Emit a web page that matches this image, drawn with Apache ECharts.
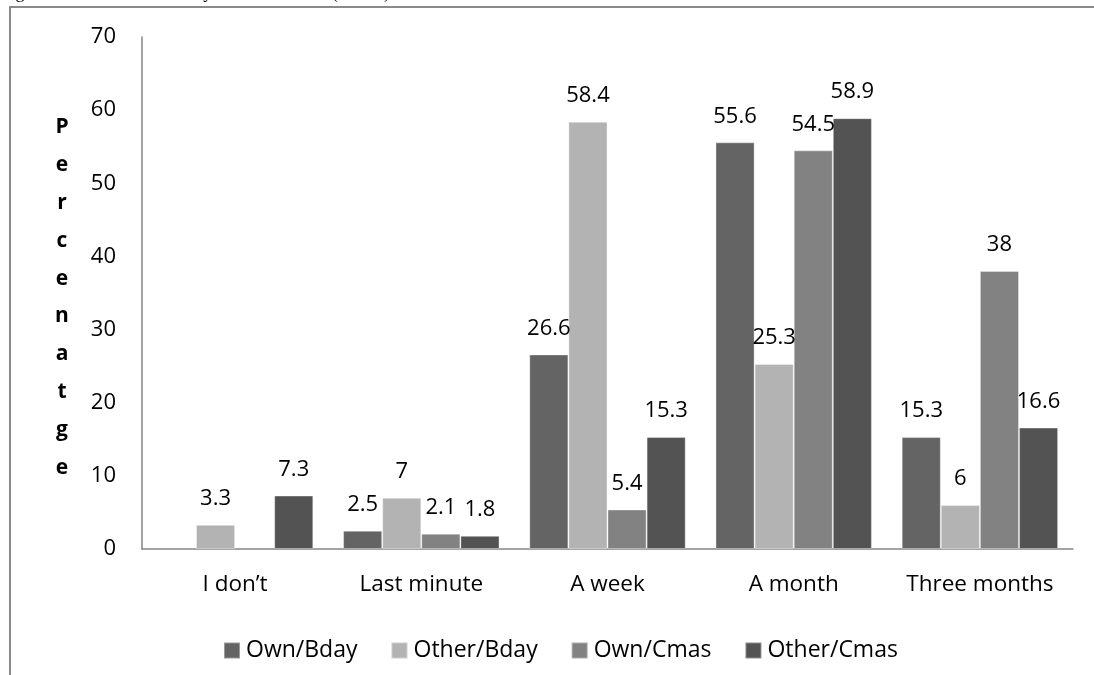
<!DOCTYPE html>
<html>
<head>
<meta charset="utf-8">
<style>
  html, body { margin: 0; padding: 0; background: #ffffff; }
  #chart { width: 1094px; height: 675px; }
</style>
<script src="https://cdn.jsdelivr.net/npm/echarts@6/dist/echarts.min.js"></script>
</head>
<body>
<div id="chart"></div>
<script>
// Time ahead gifts are planned, by occasion (percentages)
const categories = ['I don\u2019t', 'Last minute', 'A week', 'A month', 'Three months'];
const seriesNames = ['Own/Bday', 'Other/Bday', 'Own/Cmas', 'Other/Cmas'];
const ownBday   = [null, 2.5, 26.6, 55.6, 15.3];
const otherBday = [3.3, 7, 58.4, 25.3, 6];
const ownCmas   = [null, 2.1, 5.4, 54.5, 38];
const otherCmas = [7.3, 1.8, 15.3, 58.9, 16.6];
const yTicks = [0, 10, 20, 30, 40, 50, 60, 70];
const axisTitle = 'Percenatge';
const caption = 'Figure 5: Time ahead gifts are bought related to their birthdays and Christmas (n=310)';

const seriesValues = [ownBday, otherBday, ownCmas, otherCmas];
const colors = ['#646464', '#b3b3b3', '#828282', '#535353'];
const FONT = '"Open Sans", "Noto Sans", sans-serif';

const chart = echarts.init(document.getElementById('chart'), null, { renderer: 'canvas' });

chart.setOption({
  backgroundColor: '#ffffff',
  animation: false,
  color: colors,
  grid: { left: 142, right: 21, top: 37, bottom: 126, containLabel: false },
  legend: {
    data: seriesNames,
    left: 223,
    top: 639,
    padding: 0,
    icon: 'rect',
    itemWidth: 16,
    itemHeight: 16,
    itemGap: 33,
    textStyle: { fontFamily: FONT, fontSize: 23, color: '#000000', padding: [0, 0, 0, 1] }
  },
  xAxis: {
    type: 'category',
    data: categories,
    axisLine: { show: true, lineStyle: { color: '#868686', width: 1.5 } },
    axisTick: { show: false },
    axisLabel: { interval: 0, fontFamily: FONT, fontSize: 22.5, color: '#000000', margin: 24 },
    splitLine: { show: false }
  },
  yAxis: {
    type: 'value',
    min: yTicks[0],
    max: yTicks[yTicks.length - 1],
    interval: yTicks[1] - yTicks[0],
    axisLine: { show: true, lineStyle: { color: '#868686', width: 1.5 } },
    axisTick: { show: false },
    splitLine: { show: false },
    axisLabel: { fontFamily: FONT, fontSize: 22, color: '#000000', margin: 26 }
  },
  series: seriesNames.map((name, i) => ({
    name: name,
    type: 'bar',
    data: seriesValues[i],
    barGap: '0%',
    barCategoryGap: '16%',
    itemStyle: { color: colors[i], borderColor: 'rgba(255,255,255,0.35)', borderWidth: 1 },
    label: {
      show: true,
      position: 'top',
      distance: 15,
      fontFamily: FONT,
      fontSize: 22,
      color: '#000000',
      formatter: p => (p.value == null ? '' : String(p.value))
    }
  })),
  graphic: [
    // page frame around the figure
    {
      type: 'polyline',
      silent: true,
      shape: { points: [[10, 675], [10, 7], [1094, 7]] },
      style: { stroke: '#8a8a8a', lineWidth: 2, fill: null }
    },
    // caption line running off the top edge
    {
      type: 'text',
      silent: true,
      style: {
        x: 390,
        y: -6.5,
        text: caption,
        textAlign: 'right',
        textVerticalAlign: 'middle',
        fontFamily: '"Liberation Serif", "DejaVu Serif", serif',
        fontSize: 18,
        fill: '#000000'
      }
    },
    // stacked-letter axis title
    {
      type: 'text',
      silent: true,
      style: {
        x: 62,
        y: 297.5,
        text: axisTitle.split('').join('\n'),
        textAlign: 'center',
        textVerticalAlign: 'middle',
        lineHeight: 37.9,
        fontFamily: FONT,
        fontWeight: 'bold',
        fontSize: 21,
        fill: '#000000'
      }
    }
  ]
});
</script>
</body>
</html>
